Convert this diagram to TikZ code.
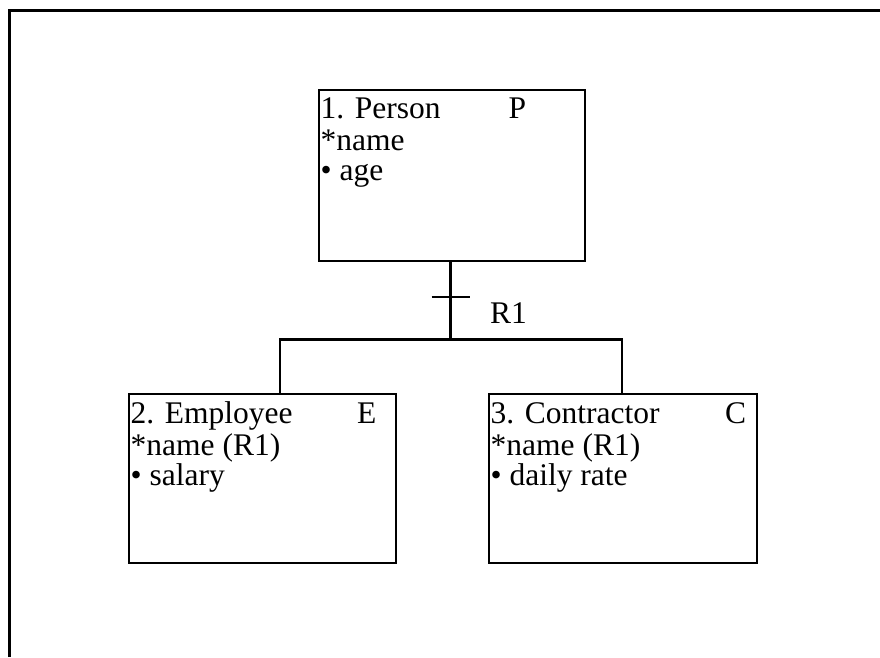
\documentclass[tikz,border=0pt]{standalone}
\usepackage{fontspec}
\setmainfont{Liberation Serif}
\begin{document}
\begin{tikzpicture}[x=1pt,y=-1pt,
  entity/.style={draw,line width=2.5pt,anchor=north west,inner sep=0pt,outer sep=0pt},
  txt/.style={anchor=base west,inner sep=0pt,font=\fontsize{31.5}{31.5}\selectfont},
  link/.style={line width=2.5pt}]
\useasboundingbox (0,0) rectangle (880,657);
% page frame (open at the bottom)
\draw[line width=2.6pt] (9.5,657) -- (9.5,10.5) -- (880,10.5);

% entity boxes
\node[entity,minimum width=266pt,minimum height=171pt] (p) at (319,90) {};
\node[entity,minimum width=267pt,minimum height=169pt] (e) at (129,394) {};
\node[entity,minimum width=268pt,minimum height=169pt] (c) at (489,394) {};

% Person
\node[txt] (p1) at (320.5,118.5) {1. Person};
\node[txt] (p2) at (508.5,118.5) {P};
\node[txt] (p3) at (320.5,150) {*name};
\node[txt] (p4) at (320.5,180.5) {• age};

% Employee
\node[txt] (e1) at (130.5,423.5) {2. Employee};
\node[txt] (e2) at (357,423.5) {E};
\node[txt] (e3) at (130.5,455) {*name (R1)};
\node[txt] (e4) at (130.5,485.5) {• salary};

% Contractor
\node[txt] (c1) at (490.5,423.5) {3. Contractor};
\node[txt] (c2) at (725,423.5) {C};
\node[txt] (c3) at (490.5,455) {*name (R1)};
\node[txt] (c4) at (490.5,485.5) {• daily rate};

% subtype relationship R1
\coordinate (top) at (450.5,261);
\coordinate (bar) at (450.5,339.5);
\coordinate (jl) at (280,339.5);
\coordinate (jr) at (622,339.5);
\coordinate (tl) at (431.5,297);
\coordinate (tr) at (470,297);
\draw[link] (top) -- (bar);
\draw[link] (tl) -- (tr);
\draw[link] (e.north -| jl) -- (jl) -- (jr) -- (c.north -| jr);
\node[txt] (r1) at (490,323) {R1};
\end{tikzpicture}
\end{document}
